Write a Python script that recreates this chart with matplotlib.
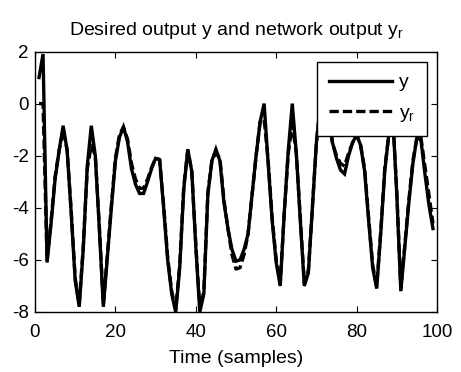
import matplotlib
matplotlib.use("Agg")
import matplotlib.pyplot as plt
import numpy as np

# ---- data ----
t = list(range(1, 100))
y = [1.0, 1.9, -6.1, -4.6, -2.9, -1.8, -0.85, -1.8, -4.2, -6.8,
     -7.8, -5.6, -2.4, -0.85, -2.0, -4.8, -7.8, -5.9, -4.0, -2.2,
     -1.3, -0.9, -1.45, -2.5, -3.1, -3.45, -3.45, -3.0, -2.5, -2.1,
     -2.15, -4.0, -6.0, -7.3, -8.0, -6.3, -3.3, -1.75, -2.6, -5.5,
     -8.0, -7.3, -3.5, -2.2, -1.75, -2.2, -3.8, -4.8, -5.6, -6.05,
     -6.0, -5.6, -5.0, -3.5, -2.0, -0.7, 0.0, -2.3, -4.5, -6.1,
     -7.0, -4.2, -1.8, 0.0, -1.9, -4.5, -7.0, -6.5, -4.0, -1.5,
     0.0, 0.3, -0.5, -1.5, -2.1, -2.55, -2.7, -2.0, -1.5, -1.2,
     -1.6, -2.6, -4.5, -6.3, -7.1, -5.0, -2.6, -1.2, -0.5, -3.5,
     -7.2, -5.5, -3.8, -2.3, -1.3, -1.4, -2.7, -3.9, -4.8]
yr = [0.0, 0.0, -6.0, -4.5, -2.8, -1.8, -1.0, -1.8, -4.1, -6.7,
      -7.7, -5.5, -2.5, -1.6, -2.0, -4.7, -7.7, -5.8, -3.9, -2.1,
      -1.2, -0.9, -1.35, -2.3, -2.9, -3.25, -3.25, -2.9, -2.45, -2.1,
      -2.15, -3.9, -5.9, -7.2, -7.9, -6.2, -3.2, -1.8, -2.6, -5.4,
      -7.9, -7.2, -3.4, -2.2, -1.9, -2.1, -3.7, -4.8, -5.8, -6.35,
      -6.3, -5.8, -5.0, -3.5, -2.0, -0.7, -0.6, -2.2, -4.4, -6.0,
      -6.9, -4.2, -1.9, -0.8, -1.9, -4.4, -6.9, -6.4, -4.0, -1.5,
      0.0, 0.2, -0.5, -1.5, -2.0, -2.3, -2.4, -1.9, -1.5, -1.2,
      -1.6, -2.5, -4.4, -6.2, -7.0, -4.9, -2.5, -1.2, -0.5, -3.4,
      -7.1, -5.4, -3.7, -2.2, -1.3, -1.3, -2.4, -3.5, -4.6]
xticks = [0, 20, 40, 60, 80, 100]
yticks = [-8, -6, -4, -2, 0, 2]
title = 'Desired output y and network output y$_\\mathregular{r}$'
xlabel = 'Time (samples)'
labels = ['y', 'y$_\\mathregular{r}$']

plt.rcParams['font.family'] = ['Liberation Sans', 'DejaVu Sans']
plt.rcParams['axes.unicode_minus'] = False
plt.rcParams['mathtext.fontset'] = 'custom'
plt.rcParams['mathtext.rm'] = 'Liberation Sans'

FS = 14
fig = plt.figure(figsize=(4.61, 3.72), dpi=100)
ax = fig.add_axes([35/461, 1-312/372, (437-35)/461, (312-51.5)/372])

ax.plot(t, y, color='black', lw=2.4, solid_joinstyle='miter', label=labels[0])
ax.plot(t, yr, color='black', lw=2.4, linestyle=(0, (2.8, 1.2)), label=labels[1])

ax.set_xlim(0, 100)
ax.set_ylim(-8, 2)
ax.set_xticks(xticks)
ax.set_yticks(yticks)
ax.tick_params(direction='in', length=4, width=0.8, top=True, right=True,
               labelsize=13.5, colors='black')
ax.tick_params(axis='x', pad=8.5)
ax.tick_params(axis='y', pad=4.5)
for s in ax.spines.values():
    s.set_linewidth(1.0)
ax.set_title(title, fontsize=FS, pad=12)
ax.set_xlabel(xlabel, fontsize=FS, labelpad=6.5)

leg = ax.legend(loc='upper right', bbox_to_anchor=(0.976, 0.961), fontsize=FS,
                fancybox=False, framealpha=1, edgecolor='black',
                handlelength=3.25, handletextpad=0.36, borderpad=0.62,
                labelspacing=0.68, borderaxespad=0)
leg.get_frame().set_linewidth(1.0)

fig.savefig('out.png', dpi=100)
